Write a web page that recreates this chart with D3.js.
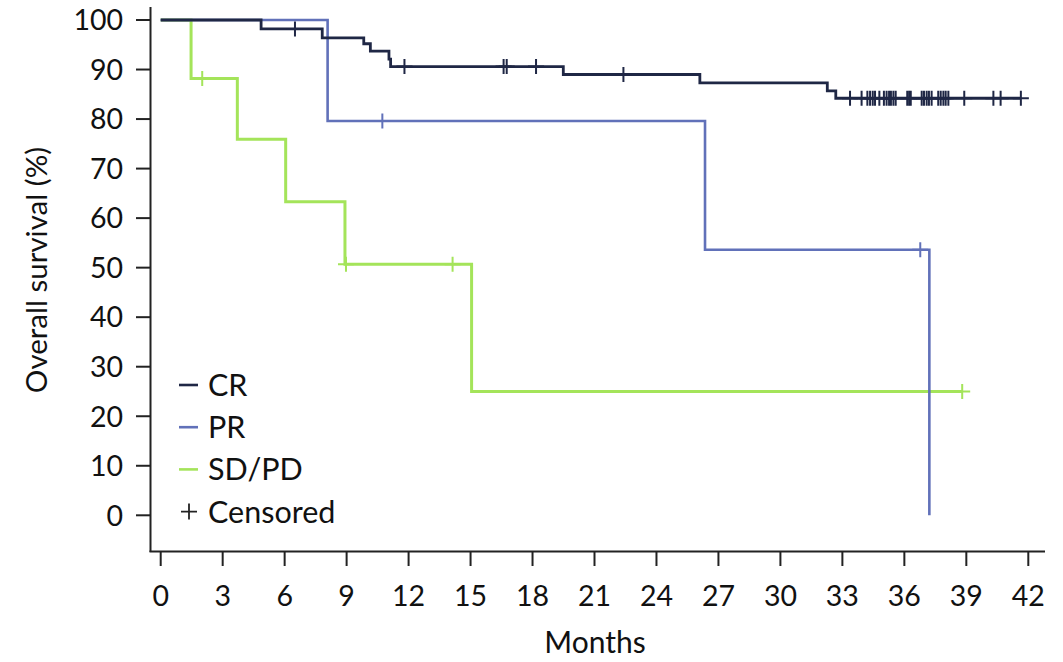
<!DOCTYPE html>
<html>
<head>
<meta charset="utf-8">
<script src="https://cdn.jsdelivr.net/npm/d3@7"></script>
<style>
  body { margin: 0; background: #fff; }
  svg text { font-family: Lato, "Open Sans", sans-serif; fill: #111; }
</style>
</head>
<body>
<svg id="chart" width="1063" height="662"></svg>
<script>
// drop times (months) and survival (%) after each drop
const crTimes = [4.86, 7.82, 9.83, 10.15, 11.05, 11.13, 19.49, 26.1, 32.27, 32.68];
const crSurv = [98.2, 96.4, 95.2, 93.7, 92.1, 90.6, 89.0, 87.3, 85.7, 84.2];
const crCensored = [6.5, 11.8, 16.6, 16.75, 18.17, 22.4, 33.37, 33.93, 34.21, 34.34, 34.47, 34.58,
  34.79, 35.01, 35.14, 35.26, 35.35, 35.47, 35.58, 36.14, 36.23, 36.31, 36.84, 36.95, 37.08,
  37.19, 37.32, 37.64, 37.76, 37.89, 38.0, 38.13, 38.9, 40.31, 40.66, 41.64];
const crEnd = 41.64;

const prTimes = [8.08, 26.35, 37.21];
const prSurv = [79.6, 53.6, 0];
const prCensored = [10.73, 36.77];
const prEnd = 37.21;

const sdTimes = [1.47, 3.71, 6.05, 8.92, 15.05];
const sdSurv = [88.2, 75.9, 63.3, 50.7, 25.0];
const sdCensored = [2.01, 8.97, 14.13, 38.8];
const sdEnd = 38.8;

const xTicks = [0, 3, 6, 9, 12, 15, 18, 21, 24, 27, 30, 33, 36, 39, 42];
const yTicks = [0, 10, 20, 30, 40, 50, 60, 70, 80, 90, 100];

const legendNames = ["CR", "PR", "SD/PD"];
const colors = ["#1f2745", "#6171b9", "#a4e45a"];

const svg = d3.select("#chart");
const x = d3.scaleLinear().domain([0, 42]).range([160.7, 1028.3]);
const y = d3.scaleLinear().domain([0, 100]).range([515.3, 20]);

// axes, drawn by hand so the lines can be offset from the ticks
const axisColor = "#222";
svg.append("line").attr("x1", 150.5).attr("x2", 150.5).attr("y1", 7).attr("y2", 552)
  .attr("stroke", axisColor).attr("stroke-width", 2);
svg.append("line").attr("x1", 149.5).attr("x2", 1045).attr("y1", 551.5).attr("y2", 551.5)
  .attr("stroke", axisColor).attr("stroke-width", 2);

const xAxis = svg.append("g");
xAxis.selectAll("line").data(xTicks).enter().append("line")
  .attr("x1", d => x(d)).attr("x2", d => x(d))
  .attr("y1", 551).attr("y2", 566)
  .attr("stroke", axisColor).attr("stroke-width", 2);
xAxis.selectAll("text").data(xTicks).enter().append("text")
  .attr("x", d => x(d)).attr("y", 606)
  .attr("text-anchor", "middle").attr("font-size", 28.5)
  .text(d => d);

const yAxis = svg.append("g");
yAxis.selectAll("line").data(yTicks).enter().append("line")
  .attr("x1", 136).attr("x2", 151)
  .attr("y1", d => y(d)).attr("y2", d => y(d))
  .attr("stroke", axisColor).attr("stroke-width", 2);
yAxis.selectAll("text").data(yTicks).enter().append("text")
  .attr("x", 123).attr("y", d => y(d))
  .attr("dy", "0.36em")
  .attr("text-anchor", "end").attr("font-size", 28.5)
  .text(d => d);

svg.append("text").attr("x", 595).attr("y", 653)
  .attr("text-anchor", "middle").attr("font-size", 30).text("Months");
svg.append("text")
  .attr("transform", "translate(47,270) rotate(-90)")
  .attr("text-anchor", "middle").attr("font-size", 29.5).text("Overall survival (%)");

// survival curves
const line = d3.line().x(d => x(d[0])).y(d => y(d[1])).curve(d3.curveStepAfter);

function survAt(times, surv, t) {
  let s = 100;
  times.forEach((tt, i) => { if (tt <= t) s = surv[i]; });
  return s;
}

function drawCurve(times, surv, end, censored, color, width) {
  const pts = [[0, 100]];
  times.forEach((t, i) => pts.push([t, surv[i]]));
  if (end > times[times.length - 1]) pts.push([end, surv[surv.length - 1]]);
  svg.append("path").attr("d", line(pts))
    .attr("fill", "none").attr("stroke", color).attr("stroke-width", width);
  svg.append("g").selectAll("path").data(censored).enter().append("path")
    .attr("transform", t => `translate(${x(t)},${y(survAt(times, surv, t))})`)
    .attr("d", "M-8,0H8M0,-7.5V7.5")
    .attr("fill", "none").attr("stroke", color).attr("stroke-width", 2);
}

drawCurve(sdTimes, sdSurv, sdEnd, sdCensored, colors[2], 3);
drawCurve(prTimes, prSurv, prEnd, prCensored, colors[1], 2.6);
drawCurve(crTimes, crSurv, crEnd, crCensored, colors[0], 2.8);

// legend
const legend = svg.append("g");
legendNames.forEach((name, i) => {
  const ly = 385 + i * 42.2;
  legend.append("line").attr("x1", 179).attr("x2", 198).attr("y1", ly).attr("y2", ly)
    .attr("stroke", colors[i]).attr("stroke-width", 2.6);
  legend.append("text").attr("x", 208).attr("y", ly).attr("dy", "0.36em")
    .attr("font-size", 30.5).text(name);
});
const cy = 385 + 3 * 42.2;
legend.append("path").attr("transform", `translate(189,${cy})`)
  .attr("d", "M-8,0H8M0,-8V8").attr("stroke", "#222").attr("stroke-width", 1.8);
legend.append("text").attr("x", 208).attr("y", cy).attr("dy", "0.36em")
  .attr("font-size", 30.5).text("Censored");
</script>
</body>
</html>
